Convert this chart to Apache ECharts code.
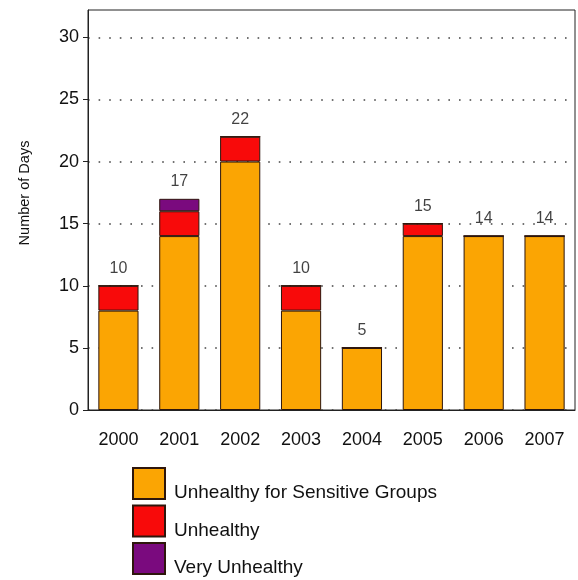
<!DOCTYPE html>
<html>
<head>
<meta charset="utf-8">
<script src="https://cdn.jsdelivr.net/npm/echarts@6/dist/echarts.min.js"></script>
<style>
  html, body { margin: 0; padding: 0; background: #ffffff; }
  #chart { width: 578px; height: 580px; }
</style>
</head>
<body>
<div id="chart"></div>
<script>
// Days per year exceeding each air-quality level
const years = ['2000', '2001', '2002', '2003', '2004', '2005', '2006', '2007'];
const sensitiveDays = [8, 14, 20, 8, 5, 14, 14, 14];
const unhealthyDays = [2, 2, 2, 2, 0, 1, 0, 0];
const veryUnhealthyDays = [0, 1, 0, 0, 0, 0, 0, 0];
const yTicks = [0, 5, 10, 15, 20, 25, 30];

const seriesNames = ['Unhealthy for Sensitive Groups', 'Unhealthy', 'Very Unhealthy'];
const totals = years.map((_, i) => sensitiveDays[i] + unhealthyDays[i] + veryUnhealthyDays[i]);

const FONT = '"Liberation Sans", Arial, sans-serif';
const OUTLINE = '#2e160c';

function stackSeries(name, data, color) {
  return {
    name: name,
    type: 'bar',
    stack: 'days',
    data: data,
    barWidth: '66%',
    itemStyle: { color: color, borderColor: OUTLINE, borderWidth: 1 },
    emphasis: { disabled: true }
  };
}

const chart = echarts.init(document.getElementById('chart'), null, { renderer: 'canvas' });

chart.setOption({
  animation: false,
  backgroundColor: '#ffffff',
  grid: {
    left: 88, right: 3, top: 10, bottom: 170,
    show: true, borderColor: '#222222', borderWidth: 1, backgroundColor: 'transparent'
  },
  xAxis: {
    type: 'category',
    data: years,
    boundaryGap: true,
    axisLine: { show: true, lineStyle: { color: '#222222', width: 1 } },
    axisTick: { show: false },
    axisLabel: { color: '#111111', fontFamily: FONT, fontSize: 18, margin: 21 }
  },
  yAxis: {
    type: 'value',
    min: 0,
    max: 32.2,
    interval: 5,
    name: 'Number of Days',
    nameLocation: 'middle',
    nameRotate: 90,
    nameGap: 56,
    nameTextStyle: { color: '#111111', fontFamily: FONT, fontSize: 14.5, padding: [0, 0, 0, 34] },
    axisLine: { show: true, lineStyle: { color: '#222222', width: 1 } },
    axisTick: { show: true, length: 5, inside: false, customValues: yTicks, lineStyle: { color: '#222222' } },
    axisLabel: { color: '#111111', fontFamily: FONT, fontSize: 18, margin: 9, customValues: yTicks },
    splitLine: { show: true, lineStyle: { color: '#444444', width: 1.6, type: [1.6, 9] } }
  },
  legend: {
    data: seriesNames,
    orient: 'vertical',
    left: 127,
    top: 462,
    height: 160,
    itemWidth: 32,
    itemHeight: 31,
    itemGap: 2,
    icon: 'rect',
    selectedMode: false,
    formatter: '{t|{name}}',
    textStyle: {
      color: '#111111', fontFamily: FONT, fontSize: 19,
      rich: { t: { color: '#111111', fontFamily: FONT, fontSize: 19, padding: [19, 0, 0, 4] } }
    }
  },
  series: [
    stackSeries(seriesNames[0], sensitiveDays, '#FBA503'),
    stackSeries(seriesNames[1], unhealthyDays, '#F80A0A'),
    stackSeries(seriesNames[2], veryUnhealthyDays, '#7A0A7E'),
    {
      name: 'total',
      type: 'scatter',
      data: totals,
      symbolSize: 0,
      silent: true,
      label: {
        show: true,
        position: 'top',
        distance: 9,
        color: '#111111',
        fontFamily: FONT,
        fontSize: 16
      }
    }
  ]
});
</script>
</body>
</html>
